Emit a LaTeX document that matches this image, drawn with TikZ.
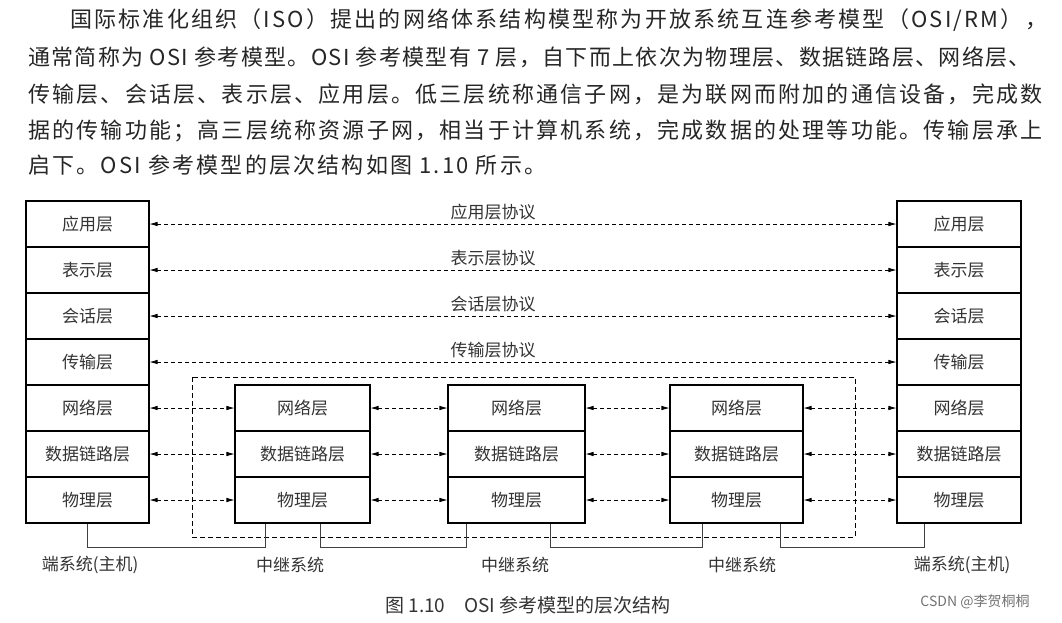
\documentclass[tikz,border=0pt]{standalone}
\usepackage{fontspec}
\setmainfont{Noto Sans CJK SC}
\newfontfamily\paraFont[LetterSpace=10]{Noto Sans CJK SC}
\newfontfamily\paraTight[LetterSpace=6]{Noto Sans CJK SC}
\usetikzlibrary{arrows.meta}

\begin{document}
\begin{tikzpicture}[x=1pt,y=-1pt,>={Latex[length=8pt,width=4.5pt]},
  layer/.style={draw,line width=1.1pt,minimum height=46pt,inner sep=0pt,font=\fontsize{17}{19}\selectfont,text=black!80},
  proto/.style={<->,dash pattern=on 4pt off 3pt,line width=0.7pt},
  wire/.style={line width=0.7pt,black!75},
  para/.style={anchor=west,inner sep=0pt,font=\paraFont\fontsize{22}{24}\selectfont,text=black!85},
  sys/.style={font=\fontsize{17}{19}\selectfont,text=black!80}]
\useasboundingbox (0,0) rectangle (1062,622);

% text above the figure
\node[para] (p1) at (70,20) {国际标准化组织（ISO）提出的网络体系结构模型称为开放系统互连参考模型（OSI/RM），};
\node[para,font=\paraTight\fontsize{22}{24}\selectfont] (p2) at (28,57) {通常简称为 OSI 参考模型。OSI 参考模型有 7 层，自下而上依次为物理层、数据链路层、网络层、};
\node[para] (p3) at (28,94) {传输层、会话层、表示层、应用层。低三层统称通信子网，是为联网而附加的通信设备，完成数};
\node[para] (p4) at (28,131) {据的传输功能；高三层统称资源子网，相当于计算机系统，完成数据的处理等功能。传输层承上};
\node[para] (p5) at (28,165) {启下。OSI 参考模型的层次结构如图 1.10 所示。};

% end systems
\foreach \n/\t [count=\i] in {1/物理层,2/数据链路层,3/网络层,4/传输层,5/会话层,6/表示层,7/应用层}{
  \node[layer,minimum width=123pt] (L\n) at (87.5,546-46*\i) {\t};
  \node[layer,minimum width=124pt] (R\n) at (959,546-46*\i) {\t};
}
% relay systems
\foreach \n/\t [count=\i] in {1/物理层,2/数据链路层,3/网络层}{
  \node[layer,minimum width=135pt] (A\n) at (302.5,546-46*\i) {\t};
  \node[layer,minimum width=137pt] (B\n) at (516.5,546-46*\i) {\t};
  \node[layer,minimum width=133pt] (C\n) at (736.5,546-46*\i) {\t};
}

\draw[dash pattern=on 5pt off 3pt,line width=0.7pt] (192,377) rectangle (855,537);

% peer protocols
\draw[proto] (L7) -- node[above,pos=.46,sys]{应用层协议} (R7);
\draw[proto] (L6) -- node[above,pos=.46,sys]{表示层协议} (R6);
\draw[proto] (L5) -- node[above,pos=.46,sys]{会话层协议} (R5);
\draw[proto] (L4) -- node[above,pos=.46,sys]{传输层协议} (R4);
\foreach \n in {1,2,3}{
  \draw[proto] (L\n) -- (A\n);
  \draw[proto] (A\n) -- (B\n);
  \draw[proto] (B\n) -- (C\n);
  \draw[proto] (C\n) -- (R\n);
}

% physical links
\draw[wire] (L1.south) -- ++(0,24) -| ([xshift=-37pt]A1.south);
\draw[wire] ([xshift=18pt]A1.south) -- ++(0,24) -| ([xshift=-50pt]B1.south);
\draw[wire] ([xshift=34pt]B1.south) -- ++(0,24) -| ([xshift=-34pt]C1.south);
\draw[wire] ([xshift=44pt]C1.south) -- ++(0,24) -| ([xshift=-35pt]R1.south);

\node[sys] (h1) at (90,565) {端系统(主机)};
\node[sys] (r1) at (290,565) {中继系统};
\node[sys] (r2) at (515,565) {中继系统};
\node[sys] (r3) at (742,565) {中继系统};
\node[sys] (h2) at (962,565) {端系统(主机)};

\node[font=\fontsize{19}{21}\selectfont,text=black!80] (cap) at (528,605) {图 1.10\quad OSI 参考模型的层次结构};
\node[font=\fontsize{14}{16}\selectfont,text=black!55] (mark) at (975,602) {CSDN @李贺桐桐};
\end{tikzpicture}
\end{document}
